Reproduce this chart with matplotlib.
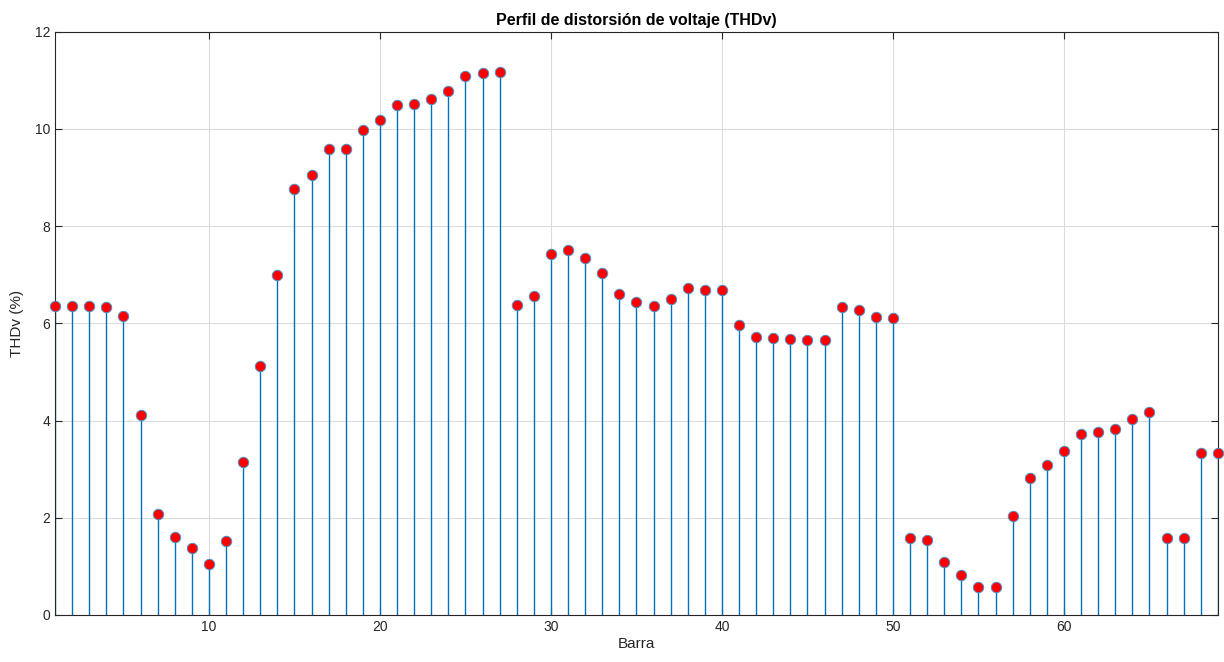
import numpy as np
import matplotlib.pyplot as plt

plt.rcParams['font.family'] = ['Liberation Sans', 'DejaVu Sans']

# THDv por barra
barras = np.arange(1, 70)
thdv = [6.35, 6.35, 6.35, 6.33, 6.15, 4.12, 2.07, 1.60, 1.37, 1.04,
        1.53, 3.15, 5.12, 7.00, 8.76, 9.06, 9.59, 9.59, 9.98, 10.19,
        10.50, 10.51, 10.61, 10.79, 11.08, 11.16, 11.18, 6.37, 6.57, 7.43,
        7.52, 7.34, 7.03, 6.60, 6.43, 6.35, 6.51, 6.73, 6.69, 6.69,
        5.96, 5.71, 5.69, 5.68, 5.65, 5.65, 6.33, 6.27, 6.14, 6.12,
        1.58, 1.54, 1.10, 0.82, 0.57, 0.57, 2.03, 2.81, 3.08, 3.37,
        3.72, 3.77, 3.83, 4.03, 4.17, 1.59, 1.59, 3.34, 3.34]

azul = '#0072BD'

fig = plt.figure(figsize=(12.24, 6.62), dpi=100)
ax = fig.add_axes([0.045, 0.071, 0.95, 0.881])

ml, sl, bl = ax.stem(barras, thdv, basefmt=' ')
plt.setp(sl, color=azul, linewidth=1.0)
plt.setp(ml, marker='o', markersize=7.5, markerfacecolor='red',
         markeredgecolor='#4a90c8', markeredgewidth=0.7, clip_on=False, zorder=3)

ax.set_xlim(1, 69)
ax.set_ylim(0, 12)
ax.set_xticks([10, 20, 30, 40, 50, 60])
ax.set_yticks(np.arange(0, 13, 2))
ax.grid(True, color='#dcdcdc', linewidth=0.8)
ax.set_axisbelow(True)
for s in ax.spines.values():
    s.set_color('#262626')
    s.set_linewidth(0.8)
ax.tick_params(direction='in', top=True, right=True, length=5,
               colors='#262626', labelsize=10, width=0.8)

ax.set_title('Perfil de distorsión de voltaje (THDv)', fontsize=11.5,
             fontweight='bold', pad=5)
ax.set_xlabel('Barra', fontsize=11, color='#262626', labelpad=2)
ax.set_ylabel('THDv (%)', fontsize=11, color='#262626', labelpad=8)

fig.savefig('out.png', dpi=100)
